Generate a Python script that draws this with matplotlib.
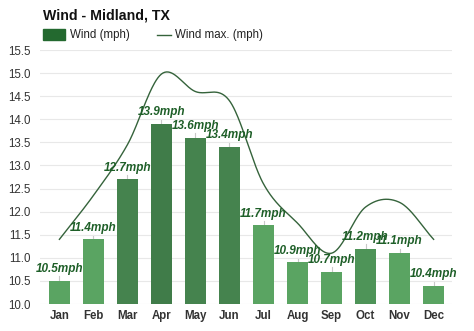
import numpy as np
import matplotlib
matplotlib.use("Agg")
import matplotlib.pyplot as plt
from matplotlib.patches import Rectangle
from matplotlib.lines import Line2D

months = ["Jan", "Feb", "Mar", "Apr", "May", "Jun", "Jul", "Aug", "Sep", "Oct", "Nov", "Dec"]
wind = [10.5, 11.4, 12.7, 13.9, 13.6, 13.4, 11.7, 10.9, 10.7, 11.2, 11.1, 10.4]
wind_max = [11.4, 12.35, 13.45, 14.98, 14.6, 14.4, 12.6, 11.75, 11.1, 12.1, 12.2, 11.4]
bar_colors = ["#5aa462", "#5aa462", "#45834e", "#407c49", "#45834e", "#45834e",
              "#5aa462", "#5aa462", "#5aa462", "#4e9458", "#5aa462", "#5aa462"]
yticks = [10.0, 10.5, 11.0, 11.5, 12.0, 12.5, 13.0, 13.5, 14.0, 14.5, 15.0, 15.5]

plt.rcParams['font.family'] = ['Liberation Sans', 'DejaVu Sans']


def smooth_line(y, per=40):
    # catmull-rom curve through the monthly points
    y = np.asarray(y, dtype=float)
    k = len(y)
    m = np.zeros(k)
    m[1:-1] = (y[2:] - y[:-2]) / 2
    m[0] = y[1] - y[0]
    m[-1] = y[-1] - y[-2]
    xs, ys = [], []
    for i in range(k - 1):
        t = np.linspace(0, 1, per, endpoint=(i == k - 2))
        h00 = 2 * t ** 3 - 3 * t ** 2 + 1
        h10 = t ** 3 - 2 * t ** 2 + t
        h01 = -2 * t ** 3 + 3 * t ** 2
        h11 = t ** 3 - t ** 2
        xs.append(i + t)
        ys.append(h00 * y[i] + h10 * m[i] + h01 * y[i + 1] + h11 * m[i + 1])
    return np.concatenate(xs), np.concatenate(ys)


fig = plt.figure(figsize=(4.74, 3.31), dpi=100)
ax = fig.add_axes([40 / 474, 27 / 331, 412 / 474, 254 / 331])

x = np.arange(len(months))
ax.bar(x, wind, width=0.62, color=bar_colors, zorder=2)
xs, ys = smooth_line(wind_max)
ax.plot(xs, ys, color="#35633b", lw=1.0, zorder=3)

for i, v in enumerate(wind):
    ax.plot([i, i], [v, v + 0.1], color="#c8c8c8", lw=0.8, zorder=1)
    ax.annotate("%.1fmph" % v, (i, v), xytext=(0, 8.5), textcoords="offset points",
                ha="center", va="center", fontsize=8.5, fontweight="bold",
                fontstyle="italic", color="#1e5f28", zorder=4)

ax.set_xlim(-0.57, 11.54)
ax.set_ylim(10, 15.5)
ax.set_yticks(yticks)
ax.set_yticklabels(["%.1f" % t for t in yticks], fontsize=8.3, color="#333333")
ax.set_xticks(x)
ax.set_xticklabels(months, fontsize=8.3, fontweight="bold", color="#333333")
ax.tick_params(length=0, pad=4)
ax.tick_params(axis="y", pad=7)
ax.grid(axis="y", color="#e8e8e8", lw=0.8, zorder=0)
for s in ax.spines.values():
    s.set_visible(False)

fig.text(43 / 474, 1 - 15 / 331, "Wind - Midland, TX", fontsize=10.2, fontweight="bold",
         color="#111111", va="center", ha="left")
fig.patches.append(Rectangle((43 / 474, 1 - 40 / 331), 22 / 474, 11 / 331,
                             transform=fig.transFigure, color="#23692f"))
fig.text(70 / 474, 1 - 35 / 331, "Wind (mph)", fontsize=8.3, color="#222222", va="center")
fig.lines.append(Line2D([157 / 474, 171 / 474], [1 - 35 / 331, 1 - 35 / 331],
                        transform=fig.transFigure, color="#35633b", lw=1.0))
fig.text(175 / 474, 1 - 35 / 331, "Wind max. (mph)", fontsize=8.3, color="#222222", va="center")

plt.savefig("out.png", dpi=100)
